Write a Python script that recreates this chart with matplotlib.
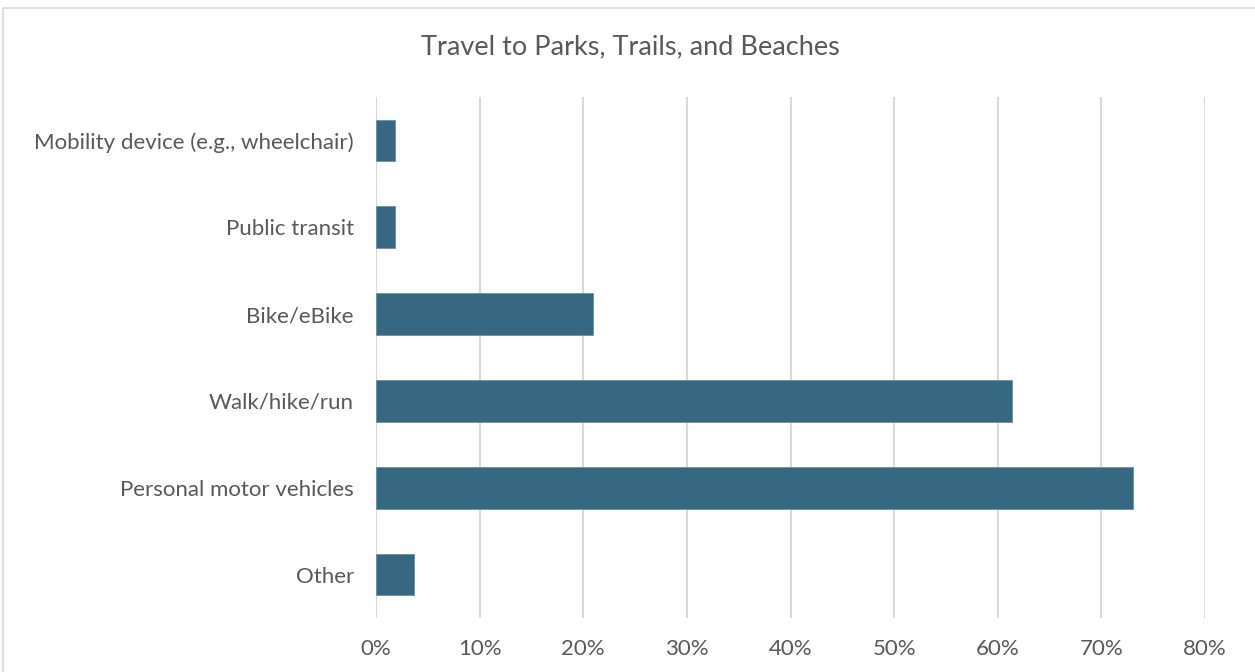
import matplotlib.pyplot as plt
from matplotlib.patches import Rectangle
from matplotlib.ticker import FuncFormatter

categories = ['Other', 'Personal motor vehicles', 'Walk/hike/run', 'Bike/eBike',
              'Public transit', 'Mobility device (e.g., wheelchair)']
values = [3.7, 73.0, 61.4, 20.9, 1.8, 1.8]

plt.rcParams['font.family'] = ['Lato', 'DejaVu Sans']
text_col = '#595959'
grid_col = '#d9d9d9'

fig = plt.figure(figsize=(12.55, 6.72), dpi=100)
ax = fig.add_axes([0.2996, 0.0804, 0.6606, 0.7753])

ax.barh(categories, values, height=0.48, color='#376882', edgecolor='#6d8fa3', linewidth=0.6, zorder=3)

ax.set_xlim(0, 80)
ax.set_ylim(-0.5, len(categories) - 0.5)
ax.set_xticks(range(0, 81, 10))
ax.xaxis.set_major_formatter(FuncFormatter(lambda v, p: f'{int(v)}%'))
ax.grid(axis='x', color=grid_col, linewidth=1.5, zorder=0)
for s in ax.spines.values():
    s.set_visible(False)
ax.tick_params(axis='both', length=0, labelsize=16, colors=text_col)
ax.tick_params(axis='y', pad=16)
ax.tick_params(axis='x', pad=15)

fig.text(0.502, 0.93, 'Travel to Parks, Trails, and Beaches', ha='center', va='center',
         fontsize=19.5, color=text_col)

fig.patches.append(Rectangle((3 / 1255, -0.01), 1.2, 1 - 8 / 672 + 0.01, transform=fig.transFigure,
                             fill=False, edgecolor=grid_col, linewidth=1.2))

fig.savefig('out.png', dpi=100)
